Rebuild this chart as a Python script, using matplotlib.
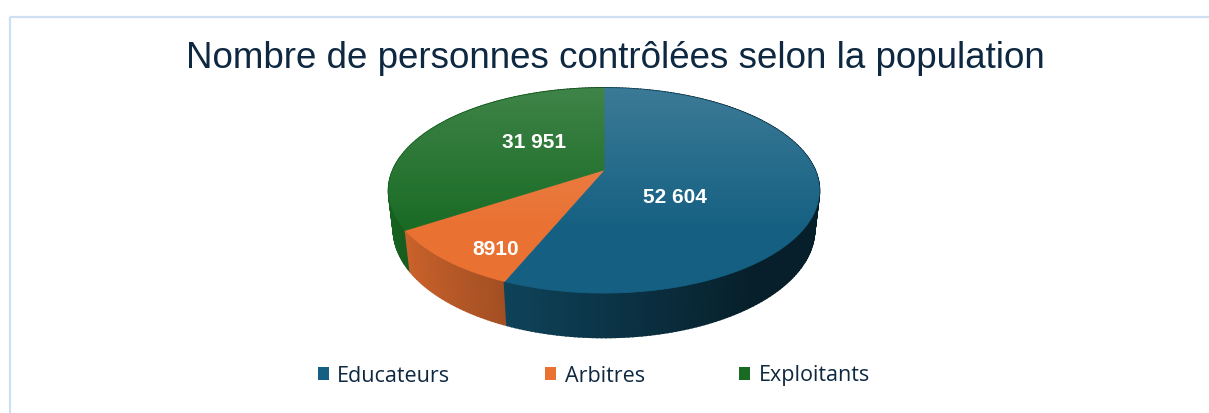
import numpy as np
import matplotlib.pyplot as plt
from matplotlib.patches import Polygon, Patch
from matplotlib.colors import to_rgb

# données
categories = ['Educateurs', 'Arbitres', 'Exploitants']
values = [52604, 8910, 31951]
labels = ['52 604', '8910', '31 951']
colors = ['#156082', '#E97132', '#196B24']

title = 'Nombre de personnes contrôlées selon la population'
text_color = '#0E2841'

# géométrie du camembert 3D (en pixels)
cx, cy = 604, 170
R = 211
elev = np.radians(27.8)
D = 4.42      # distance caméra (perspective)
H = 0.21      # épaisseur


def proj(u, v, h):
    s = D / (D + v * np.cos(elev) - h * np.sin(elev))
    x = cx + R * u * s
    y = cy - R * (v * np.sin(elev) + h * np.cos(elev)) * s
    return x, y


fig = plt.figure(figsize=(12.09, 4.13), dpi=100)
ax = fig.add_axes([0, 0, 1, 1])
ax.set_xlim(0, 1209)
ax.set_ylim(413, 0)
ax.axis('off')

# bordure (haut et gauche)
ax.plot([10, 1209], [17, 17], color='#cfdff2', lw=1.6, solid_capstyle='butt')
ax.plot([10, 10], [17, 413], color='#cfdff2', lw=1.6, solid_capstyle='butt')

total = float(sum(values))
frac = np.array(values) / total
bounds = np.concatenate([[0], np.cumsum(frac)]) * 2 * np.pi

# faces latérales
quads = []
for i in range(len(values)):
    t = np.linspace(bounds[i], bounds[i + 1], max(int(np.degrees(bounds[i + 1] - bounds[i])), 2) + 1)
    base = np.array(to_rgb(colors[i]))
    for a0, a1 in zip(t[:-1], t[1:]):
        u0, v0 = np.sin(a0), np.cos(a0)
        u1, v1 = np.sin(a1), np.cos(a1)
        p = [proj(u0, v0, 0), proj(u1, v1, 0), proj(u1, v1, -H), proj(u0, v0, -H)]
        um = np.sin((a0 + a1) / 2)
        k = np.clip(0.55 - 0.38 * um, 0.32, 0.9)
        quads.append(((v0 + v1) / 2, p, base * k))
quads.sort(key=lambda q: -q[0])
for _, p, c in quads:
    ax.add_patch(Polygon(p, closed=True, facecolor=c, edgecolor=c, lw=1.3, zorder=2))

# faces du dessus
outline = []
for i in range(len(values)):
    t = np.linspace(bounds[i], bounds[i + 1], 200)
    pts = [proj(0, 0, 0)] + [proj(np.sin(a), np.cos(a), 0) for a in t]
    outline += pts[1:]
    ax.add_patch(Polygon(pts, closed=True, facecolor=colors[i], edgecolor=colors[i],
                         lw=0.6, zorder=3))

# dégradé clair sur le dessus
grad = np.ones((200, 1, 4))
grad[:, 0, 3] = np.clip(np.linspace(0.17, -0.08, 200), 0, 1)
ytop = proj(0, 1, 0)[1]
im = ax.imshow(grad, extent=(cx - R * 1.3, cx + R * 1.3, 300, ytop - 2), origin='upper',
               aspect='auto', zorder=4, interpolation='bilinear')
clip = Polygon(outline, closed=True, transform=ax.transData)
im.set_clip_path(clip)
ax.set_xlim(0, 1209)
ax.set_ylim(413, 0)

# étiquettes de valeurs
label_r = [0.35, 0.70, 0.38]
label_dy = [21, 20, -10]
for i in range(len(values)):
    m = (bounds[i] + bounds[i + 1]) / 2
    x, y = proj(label_r[i] * np.sin(m), label_r[i] * np.cos(m), 0)
    ax.text(x - 2, y + label_dy[i], labels[i], ha='center', va='center', color='white',
            fontsize=15, fontweight='bold', family='Liberation Sans', zorder=6)

# titre
fig.text(615 / 1209, 1 - 58 / 413, title, ha='center', va='center', fontsize=26.5,
         color=text_color, family='Liberation Sans')

# légende
handles = [Patch(facecolor=c, edgecolor='none') for c in colors]
fig.legend(handles, categories, loc='center', bbox_to_anchor=(594 / 1209, 1 - 376 / 413),
           ncol=3, frameon=False, handlelength=0.5, handleheight=0.55,
           handletextpad=0.4, columnspacing=4.4, labelcolor=text_color,
           prop={'family': 'Open Sans', 'size': 15.5})

fig.savefig('out.png', dpi=100)
